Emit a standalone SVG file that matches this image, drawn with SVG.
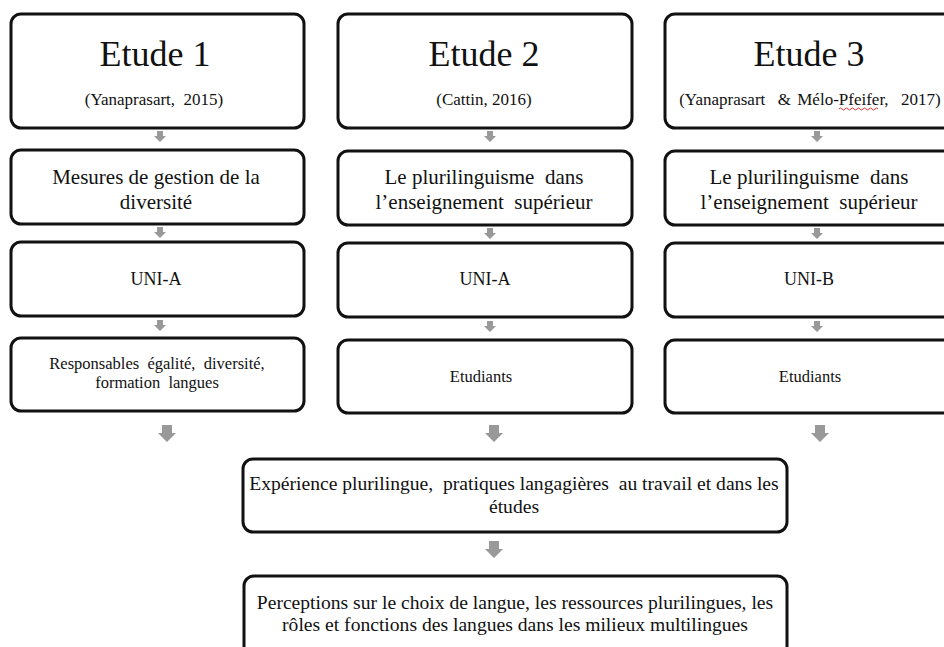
<svg xmlns="http://www.w3.org/2000/svg" width="944" height="647" viewBox="0 0 944 647">
<defs>
<style>
.box{fill:#fff;stroke:#111;stroke-width:3}
.t{font-family:"Liberation Serif","Times New Roman",serif;fill:#111;text-anchor:middle;white-space:pre}
.h{font-size:36px}
.c{font-size:17px}
.m{font-size:21px}
.u{font-size:18px}
.s{font-size:16.5px}
.b{font-size:19.6px}
.arr{fill:#999}
</style>
<path id="sa" d="M-3,0 H3 V5 H6 L0,11 L-6,5 H-3 Z"/>
<path id="ba" d="M-5,0 H5 V8 H9 L0,17 L-9,8 H-5 Z"/>
</defs>
<rect width="944" height="647" fill="#fff"/>
<g id="connectors" class="arr">
<use href="#sa" x="160" y="131"/>
<use href="#sa" x="160" y="227"/>
<use href="#sa" x="160" y="320"/>
<use href="#sa" x="490" y="131"/>
<use href="#sa" x="490" y="228"/>
<use href="#sa" x="490" y="321"/>
<use href="#sa" x="817" y="131"/>
<use href="#sa" x="817" y="228"/>
<use href="#sa" x="817" y="321"/>
<use href="#ba" x="167" y="425"/>
<use href="#ba" x="494" y="425"/>
<use href="#ba" x="820" y="425"/>
<use href="#ba" x="494" y="541"/>
</g>
<g id="etude1">
<rect class="box" x="11" y="14" width="293" height="114" rx="10"/>
<text class="t h" x="155" y="66">Etude 1</text>
<text class="t c" x="154" y="105" xml:space="preserve">(Yanaprasart,  2015)</text>
</g>
<g id="etude2">
<rect class="box" x="338" y="14" width="294" height="114" rx="10"/>
<text class="t h" x="484" y="66">Etude 2</text>
<text class="t c" x="484" y="105">(Cattin, 2016)</text>
</g>
<g id="etude3">
<rect class="box" x="665" y="14" width="293" height="114" rx="10"/>
<text class="t h" x="809" y="66">Etude 3</text>
<text class="t c" x="810" y="105" xml:space="preserve" word-spacing="2">(Yanaprasart  &amp; Mélo-Pfeifer,  2017)</text>
<path d="M839,109 q1.5,-2 3,0 t3,0 t3,0 t3,0 t3,0 t3,0 t3,0 t3,0 t3,0 t3,0 t3,0 t3,0 t3,0" fill="none" stroke="#d33" stroke-width="1"/>
</g>
<g id="theme1">
<rect class="box" x="11" y="150" width="293" height="74" rx="10"/>
<text class="t m" x="156" y="184">Mesures de gestion de la</text>
<text class="t m" x="156" y="209">diversité</text>
</g>
<g id="theme2">
<rect class="box" x="338" y="151" width="294" height="74" rx="10"/>
<text class="t m" x="484" y="184" xml:space="preserve">Le plurilinguisme  dans</text>
<text class="t m" x="484" y="209" xml:space="preserve">l’enseignement  supérieur</text>
</g>
<g id="theme3">
<rect class="box" x="665" y="151" width="293" height="74" rx="10"/>
<text class="t m" x="809" y="184" xml:space="preserve">Le plurilinguisme  dans</text>
<text class="t m" x="809" y="209" xml:space="preserve">l’enseignement  supérieur</text>
</g>
<g id="uni1">
<rect class="box" x="11" y="242" width="293" height="74" rx="10"/>
<text class="t u" x="156" y="285">UNI-A</text>
</g>
<g id="uni2">
<rect class="box" x="338" y="243" width="294" height="74" rx="10"/>
<text class="t u" x="485" y="285">UNI-A</text>
</g>
<g id="uni3">
<rect class="box" x="665" y="243" width="293" height="74" rx="10"/>
<text class="t u" x="809" y="285">UNI-B</text>
</g>
<g id="pop1">
<rect class="box" x="11" y="338" width="293" height="73" rx="10"/>
<text class="t s" x="157" y="369" xml:space="preserve">Responsables  égalité,  diversité,</text>
<text class="t s" x="157" y="388" xml:space="preserve">formation  langues</text>
</g>
<g id="pop2">
<rect class="box" x="338" y="340" width="294" height="73" rx="10"/>
<text class="t s" x="481" y="382">Etudiants</text>
</g>
<g id="pop3">
<rect class="box" x="665" y="340" width="293" height="73" rx="10"/>
<text class="t s" x="810" y="382">Etudiants</text>
</g>
<g id="experience">
<rect class="box" x="243" y="459" width="544" height="73" rx="10"/>
<text class="t b" x="514" y="490" xml:space="preserve">Expérience plurilingue,  pratiques langagières  au travail et dans les</text>
<text class="t b" x="514" y="513">études</text>
</g>
<g id="perceptions">
<rect class="box" x="244" y="576" width="543" height="80" rx="10"/>
<text class="t b" x="515" y="609">Perceptions sur le choix de langue, les ressources plurilingues, les</text>
<text class="t b" x="515" y="631">rôles et fonctions des langues dans les milieux multilingues</text>
</g>
</svg>
